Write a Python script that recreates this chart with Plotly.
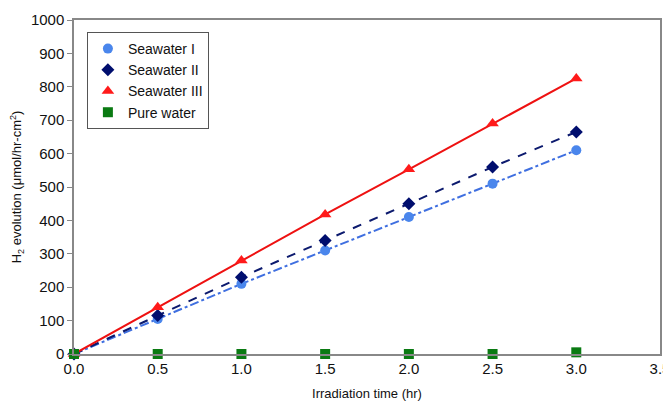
import plotly.graph_objects as go

time_hr = [0.0, 0.5, 1.0, 1.5, 2.0, 2.5, 3.0]
seawater_1 = [0, 105, 210, 310, 410, 510, 610]
seawater_2 = [0, 115, 230, 340, 450, 560, 665]
seawater_3 = [0, 140, 280, 418, 553, 690, 825]
pure_water = [0, 0, 0, 0, 0, 0, 5]
series_names = ["Seawater I", "Seawater II", "Seawater III", "Pure water"]

styles = [
    dict(line=dict(color="#3f6fe0", width=2, dash="dashdot"),
         marker=dict(symbol="circle", size=10, color="#4a86ec")),
    dict(line=dict(color="#0c1a6e", width=2, dash="dash"),
         marker=dict(symbol="diamond", size=10, color="#000e6e")),
    dict(line=dict(color="#ee1111", width=2),
         marker=dict(symbol="triangle-up", size=11, color="#ff1a1a")),
    dict(line=None, marker=dict(symbol="square", size=10, color="#0a7a12")),
]
values = [seawater_1, seawater_2, seawater_3, pure_water]

fig = go.Figure()
for name, ys, st in zip(series_names, values, styles):
    if st["line"] is not None:
        fig.add_trace(go.Scatter(x=time_hr, y=ys, name=name, mode="lines+markers",
                                 line=st["line"], marker=st["marker"],
                                 cliponaxis=False, showlegend=False, legendgroup=name))
    else:
        fig.add_trace(go.Scatter(x=time_hr, y=ys, name=name, mode="markers",
                                 marker=st["marker"], cliponaxis=False,
                                 showlegend=False, legendgroup=name))
# legend entries showing markers only
for name, st in zip(series_names, styles):
    fig.add_trace(go.Scatter(x=[None], y=[None], name=name, mode="markers",
                             marker=st["marker"], legendgroup=name, showlegend=True))

# page body has an 8px margin, so the figure is sized to fill the rest of the window
fig.update_layout(
    width=663, height=393,
    margin=dict(l=66, r=11, t=12, b=47),
    plot_bgcolor="white", paper_bgcolor="white",
    font=dict(family="Liberation Sans, Arial", size=15, color="#111"),
    showlegend=True,
    legend=dict(x=0.022, y=0.964, xanchor="left", yanchor="top",
                bordercolor="#555", borderwidth=1, bgcolor="white",
                font=dict(size=14), itemwidth=30, tracegroupgap=0),
)
fig.update_xaxes(range=[0, 3.5], tickvals=[0, 0.5, 1, 1.5, 2, 2.5, 3, 3.5],
                 ticktext=["0.0", "0.5", "1.0", "1.5", "2.0", "2.5", "3.0", "3.5"],
                 tickfont=dict(size=15), automargin=False,
                 showgrid=False, zeroline=False, showline=True, linecolor="#888",
                 linewidth=1.5, mirror=True, ticks="",
                 title=dict(text="Irradiation time (hr)", font=dict(size=13)))
fig.update_yaxes(range=[0, 1000], dtick=100, showgrid=False, zeroline=False,
                 tickfont=dict(size=15), automargin=False,
                 showline=True, linecolor="#888", linewidth=1.5, mirror=True,
                 ticks="outside", ticklen=5, tickcolor="#888",
                 title=dict(text="H<sub>2</sub> evolution (μmol/hr-cm<sup>2</sup>)",
                            font=dict(size=13)))

fig.write_html("out.html")
